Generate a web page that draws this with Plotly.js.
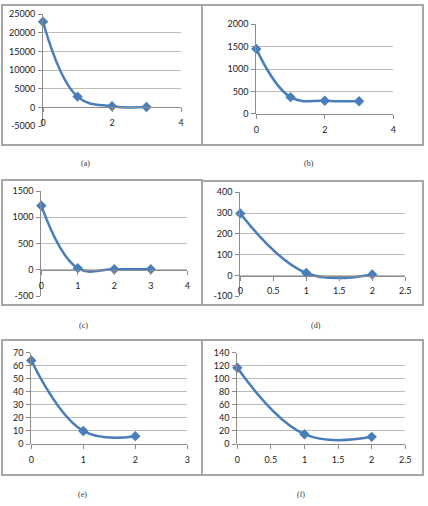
<!DOCTYPE html>
<html>
<head>
<meta charset="utf-8">
<script src="https://cdn.plot.ly/plotly-3.0.1.min.js"></script>
<style>html,body{margin:0;padding:0;background:#fff;}#chart{width:428px;height:506px;}</style>
</head>
<body>
<div id="chart"></div>
<script>
// ---- data ----
const xA = [0, 1, 2, 3];
const yA = [23000, 2900, 300, 100];
const xB = [0, 1, 2, 3];
const yB = [1450, 370, 290, 280];
const xC = [0, 1, 2, 3];
const yC = [1220, 30, 10, 10];
const xD = [0, 1, 2];
const yD = [298, 12, 5];
const xE = [0, 1, 2];
const yE = [64, 10, 6];
const xF = [0, 1, 2];
const yF = [117, 15, 11];
const captions = ['(a)', '(b)', '(c)', '(d)', '(e)', '(f)'];

// tick labels (y axes)
const yTicksA = [-5000, 0, 5000, 10000, 15000, 20000, 25000];
const yTicksB = [0, 500, 1000, 1500, 2000];
const yTicksC = [-500, 0, 500, 1000, 1500];
const yTicksD = [-100, 0, 100, 200, 300, 400];
const yTicksE = [0, 10, 20, 30, 40, 50, 60, 70];
const yTicksF = [0, 20, 40, 60, 80, 100, 120, 140];
// tick labels (x axes)
const xTicksA = [0, 2, 4];
const xTicksB = [0, 2, 4];
const xTicksC = [0, 1, 2, 3, 4];
const xTicksD = [0, 0.5, 1, 1.5, 2, 2.5];
const xTicksE = [0, 1, 2, 3];
const xTicksF = [0, 0.5, 1, 1.5, 2, 2.5];

// ---- panel geometry (pixels) ----
const W = 428, H = 506;
const panels = [
  {x: xA, y: yA, xt: xTicksA, yt: yTicksA, px: [43, 181], py: [14.3, 126], box: [2, 5, 202, 145], cap: [85, 163]},
  {x: xB, y: yB, xt: xTicksB, yt: yTicksB, px: [256.3, 393.3], py: [24.3, 113.7], box: [202, 5, 423, 145], cap: [309, 163]},
  {x: xC, y: yC, xt: xTicksC, yt: yTicksC, px: [41.3, 187.3], py: [191, 296], box: [2, 180, 202, 305], cap: [83, 325]},
  {x: xD, y: yD, xt: xTicksD, yt: yTicksD, px: [240.3, 405.3], py: [192.3, 296.3], box: [202, 181, 423, 305], cap: [316, 325]},
  {x: xE, y: yE, xt: xTicksE, yt: yTicksE, px: [31.3, 187.3], py: [352.7, 444], box: [2, 340, 202, 475], cap: [82, 494]},
  {x: xF, y: yF, xt: xTicksF, yt: yTicksF, px: [237.3, 405.3], py: [352.7, 444], box: [202, 340, 423, 475], cap: [301, 494]}
];

const blue = '#4A7EBB';
const axisGrey = '#8c8c8c';
const gridGrey = '#bdbdbd';
const tickFont = {family: 'Lato, "Liberation Sans", sans-serif', size: 9, color: '#1a1a1a'};
const fmt = v => (v < 0 ? '-' + String(-v) : String(v));

const data = [];
const layout = {
  width: W, height: H,
  margin: {l: 0, r: 0, t: 0, b: 0},
  paper_bgcolor: '#fff', plot_bgcolor: 'rgba(0,0,0,0)',
  showlegend: false,
  shapes: [], annotations: []
};

panels.forEach((p, i) => {
  const n = i + 1;
  const xa = n === 1 ? 'xaxis' : 'xaxis' + n;
  const ya = n === 1 ? 'yaxis' : 'yaxis' + n;
  const xref = n === 1 ? 'x' : 'x' + n;
  const yref = n === 1 ? 'y' : 'y' + n;
  data.push({
    x: p.x, y: p.y, xaxis: xref, yaxis: yref,
    type: 'scatter', mode: 'lines+markers',
    line: {color: blue, width: 2.5, shape: 'spline', smoothing: 1.15},
    marker: {symbol: 'diamond', size: 8, color: blue},
    cliponaxis: false, hoverinfo: 'skip'
  });
  const xr = [p.xt[0], p.xt[p.xt.length - 1]];
  const yr = [p.yt[0], p.yt[p.yt.length - 1]];
  const xdom = [p.px[0] / W, p.px[1] / W];
  const ydom = [1 - p.py[1] / H, 1 - p.py[0] / H];
  const frac = (0 - yr[0]) / (yr[1] - yr[0]);
  const pos = ydom[0] + (ydom[1] - ydom[0]) * frac;
  layout[xa] = {
    domain: xdom, range: xr,
    tickmode: 'array', tickvals: p.xt, ticktext: p.xt.map(fmt),
    anchor: 'free', position: pos,
    showgrid: false, zeroline: false,
    showline: true, linecolor: axisGrey, linewidth: 1,
    ticks: 'outside', ticklen: 4, tickcolor: axisGrey,
    ticklabelstandoff: 3,
    tickfont: tickFont, fixedrange: true
  };
  layout[ya] = {
    domain: ydom, range: yr,
    tickmode: 'array', tickvals: p.yt, ticktext: p.yt.map(fmt),
    anchor: xref,
    showgrid: true, gridcolor: gridGrey, gridwidth: 1,
    zeroline: false,
    showline: true, linecolor: axisGrey, linewidth: 1,
    ticks: 'outside', ticklen: 4, tickcolor: axisGrey,
    ticklabelstandoff: 1,
    tickfont: tickFont, fixedrange: true
  };
  layout.shapes.push({
    type: 'rect', xref: 'paper', yref: 'paper',
    x0: p.box[0] / W, x1: p.box[2] / W,
    y0: 1 - p.box[3] / H, y1: 1 - p.box[1] / H,
    line: {color: '#a6a6a6', width: 2}, fillcolor: 'rgba(0,0,0,0)', layer: 'below'
  });
  layout.annotations.push({
    text: captions[i], xref: 'paper', yref: 'paper',
    x: p.cap[0] / W, y: 1 - p.cap[1] / H,
    xanchor: 'center', yanchor: 'middle', showarrow: false,
    font: {family: '"Liberation Serif", "Times New Roman", serif', size: 8, color: '#333'}
  });
});

Plotly.newPlot('chart', data, layout, {staticPlot: true, displayModeBar: false});
</script>
</body>
</html>
